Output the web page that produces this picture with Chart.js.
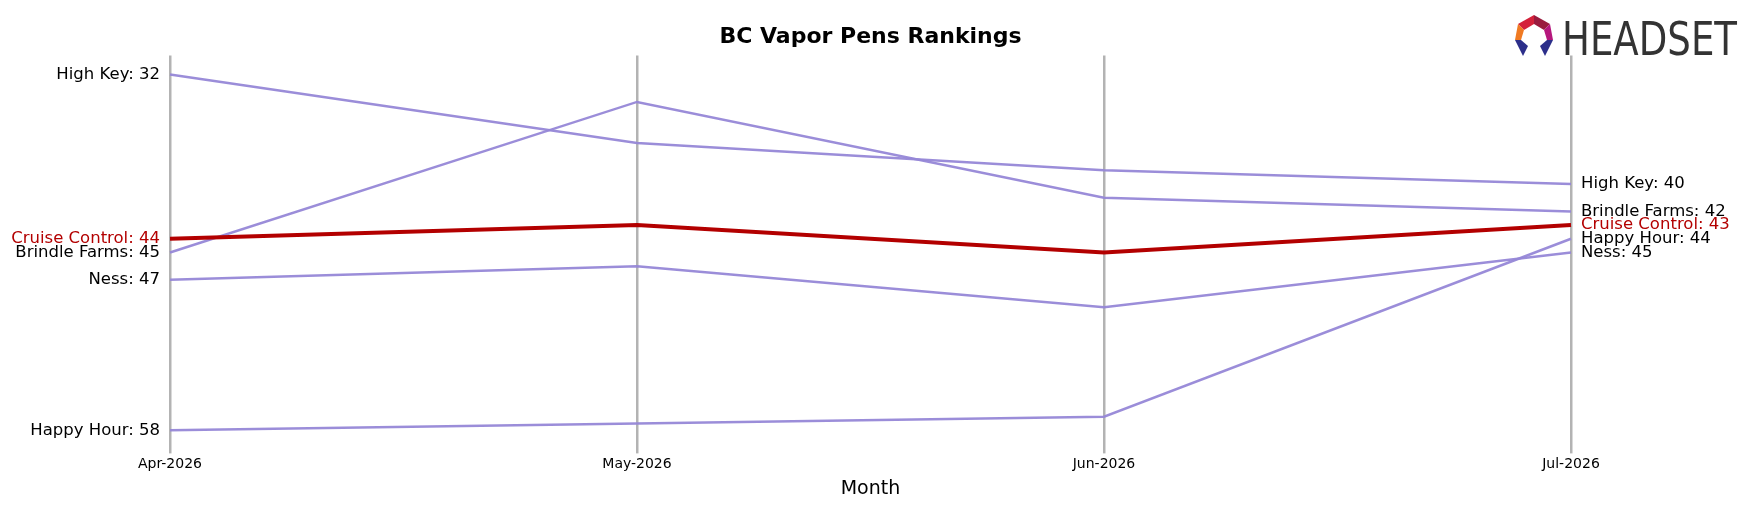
<!DOCTYPE html>
<html>
<head>
<meta charset="utf-8">
<script src="https://cdn.jsdelivr.net/npm/chart.js@4/dist/chart.umd.min.js"></script>
<style>
  body { margin: 0; background: #fff; }
  #wrap { width: 1753px; height: 506px; position: relative; }
  #logo { position: absolute; left: 1512px; top: 12px; }
</style>
</head>
<body>
<div id="wrap">
  <canvas id="rankChart"></canvas>
  <svg id="logo" width="230" height="50" viewBox="0 0 230 50">
    <polygon points="6,12 22,3 22,12 12,18" fill="#d4213a"/>
    <polygon points="22,3 38,12 32,18 22,12" fill="#9a1b3e"/>
    <polygon points="6,12 12,18 9,28 3,28" fill="#f07a22"/>
    <polygon points="38,12 41,28 35,28 32,18" fill="#b5177d"/>
    <polygon points="3,28 9,28 16,34 11,44" fill="#2c2f8a"/>
    <polygon points="41,28 35,28 28,34 33,44" fill="#2c2f8a"/>
    <text x="50" y="43" font-family="DejaVu Sans Condensed, Liberation Sans Narrow, sans-serif" font-size="46" fill="#333" textLength="175" lengthAdjust="spacingAndGlyphs">HEADSET</text>
  </svg>
</div>
<script>
// Datos del gráfico
const months = ['Apr-2026', 'May-2026', 'Jun-2026', 'Jul-2026'];
const brands = ['High Key', 'Brindle Farms', 'Cruise Control', 'Ness', 'Happy Hour'];
const highKey = [32, 37, 39, 40];
const brindleFarms = [45, 34, 41, 42];
const cruiseControl = [44, 43, 45, 43];
const ness = [47, 46, 49, 45];
const happyHour = [58, 57.5, 57, 44];
const seriesValues = [highKey, brindleFarms, cruiseControl, ness, happyHour];
const highlight = 'Cruise Control';

const purple = 'rgba(150, 135, 215, 0.95)';
const red = '#b30000';

// Plugin para las etiquetas al inicio y al final de cada línea
const endLabels = {
  id: 'endLabels',
  afterDatasetsDraw(chart) {
    const c = chart.ctx;
    c.save();
    c.font = '16.5px "DejaVu Sans", sans-serif';
    c.textBaseline = 'middle';
    chart.data.datasets.forEach((ds, i) => {
      const meta = chart.getDatasetMeta(i);
      const first = meta.data[0], last = meta.data[meta.data.length - 1];
      c.fillStyle = ds.label === highlight ? red : '#000';
      c.textAlign = 'right';
      c.fillText(ds.label + ': ' + ds.data[0], first.x - 10, first.y);
      c.textAlign = 'left';
      c.fillText(ds.label + ': ' + ds.data[ds.data.length - 1], last.x + 10, last.y);
    });
    c.restore();
  }
};

const datasets = brands.map((b, i) => ({
  label: b,
  data: seriesValues[i],
  borderColor: b === highlight ? red : purple,
  borderWidth: b === highlight ? 4 : 2.5,
  pointRadius: 0,
  tension: 0,
  order: b === highlight ? 0 : 1
}));

new Chart(document.getElementById('rankChart'), {
  type: 'line',
  data: { labels: months, datasets },
  options: {
    responsive: true,
    maintainAspectRatio: false,
    animation: false,
    layout: { padding: { left: 170, right: 182, top: 0, bottom: 2 } },
    plugins: {
      legend: { display: false },
      tooltip: { enabled: false },
      title: {
        display: true,
        text: 'BC Vapor Pens Rankings',
        font: { family: '"DejaVu Sans", sans-serif', size: 22, weight: 'bold' },
        color: '#000',
        padding: { top: 24, bottom: 5 }
      }
    },
    scales: {
      x: {
        offset: false,
        border: { display: false },
        grid: { color: '#b3b3b3', lineWidth: 2.5, drawTicks: true, tickLength: 8 },
        ticks: { color: '#000', font: { family: '"DejaVu Sans", sans-serif', size: 14 }, maxRotation: 0, padding: 3 },
        title: { display: true, text: 'Month', color: '#000', font: { family: '"DejaVu Sans", sans-serif', size: 19 }, padding: { top: 1 } }
      },
      y: {
        reverse: true,
        min: 30.6,
        max: 59.1,
        display: false
      }
    }
  },
  plugins: [endLabels]
});
</script>
</body>
</html>
